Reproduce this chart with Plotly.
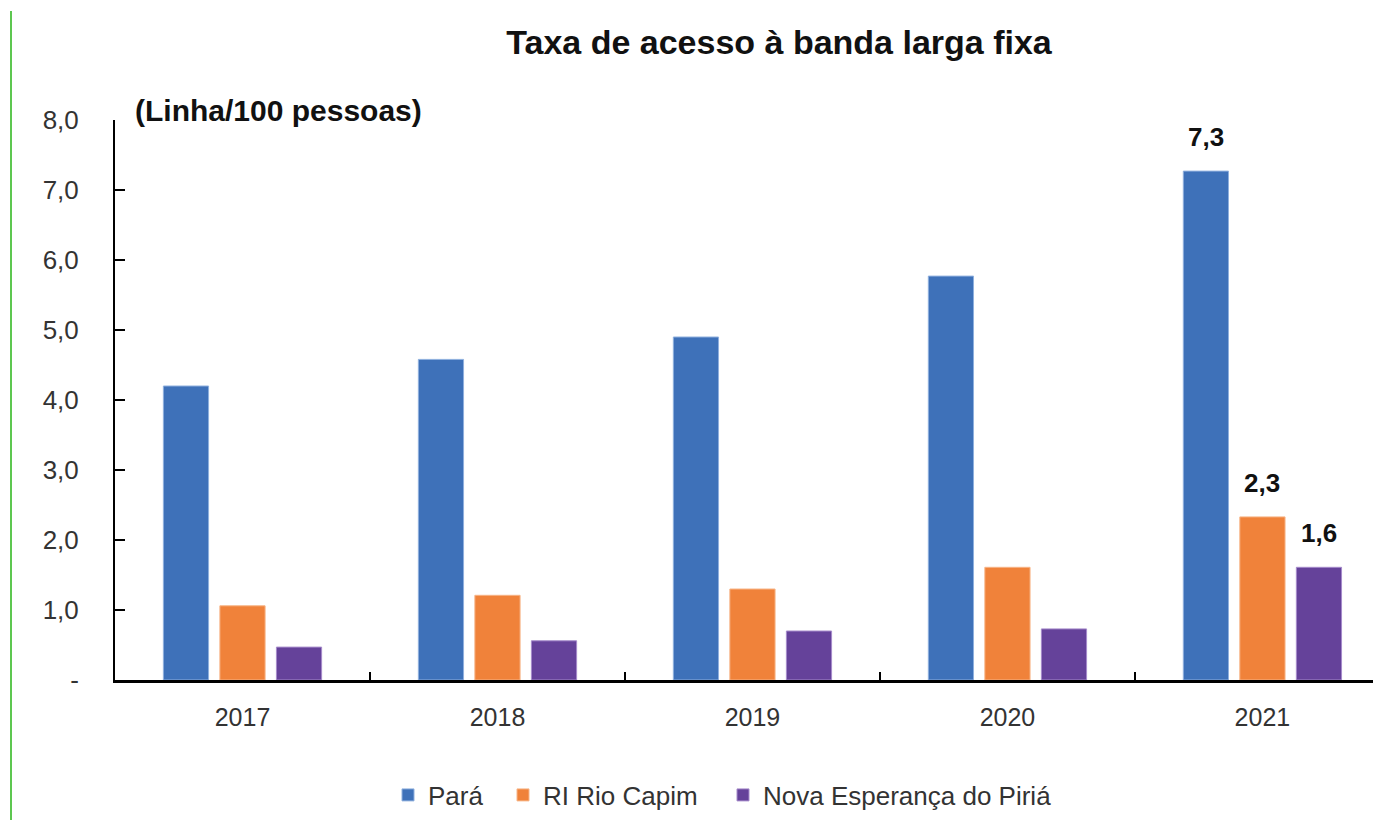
import plotly.graph_objects as go

years = ["2017", "2018", "2019", "2020", "2021"]
para = [4.2, 4.58, 4.9, 5.77, 7.27]
rio_capim = [1.06, 1.21, 1.3, 1.61, 2.33]
nova_esperanca = [0.47, 0.56, 0.7, 0.73, 1.61]
series_names = ["Pará", "RI Rio Capim", "Nova Esperança do Piriá"]
series_colors = ["#3E71B9", "#F0823A", "#65429A"]
series_edges = ["#8FB0DE", "#F7B588", "#A68BCB"]
ytick_vals = [0, 1, 2, 3, 4, 5, 6, 7, 8]
ytick_text = ["-", "1,0", "2,0", "3,0", "4,0", "5,0", "6,0", "7,0", "8,0"]
labelled_year = "2021"

FONT = "Liberation Sans, Arial, sans-serif"
W, H = 1373, 812          # page body adds an 8px margin
L, T, B = 107, 112, 140
PW, PH = W - L, H - T - B

legend_ids = ["legend", "legend2", "legend3"]
legend_text_x = [428, 543, 763]   # screen x where legend texts start

fig = go.Figure()
for name, vals, col, edge, lg in zip(series_names, [para, rio_capim, nova_esperanca],
                                     series_colors, series_edges, legend_ids):
    fig.add_trace(go.Bar(x=years, y=vals, name=name,
                         marker=dict(color=col, line=dict(width=1, color=edge)),
                         legend=lg, hoverinfo="x+y+name"))

# data labels for the last year
offsets = [-1, 0, 1]
idx = years.index(labelled_year)
for k, vals in enumerate([para, rio_capim, nova_esperanca]):
    v = vals[idx]
    fig.add_annotation(x=idx + offsets[k] * 0.2215, y=v, xref="x", yref="y",
                       text="<b>" + f"{v:.1f}".replace(".", ",") + "</b>",
                       showarrow=False, yanchor="middle", yshift=34,
                       font=dict(family=FONT, size=26, color="#111111"))

fig.add_annotation(x=(125 - L) / PW, xref="paper", y=(T + PH - 102) / PH, yref="paper",
                   xanchor="left", yanchor="middle",
                   text="<b>(Linha/100 pessoas)</b>", showarrow=False,
                   font=dict(family=FONT, size=30, color="#111111"))

gx = (3 - L) / PW
fig.add_shape(type="line", xref="paper", yref="paper",
              x0=gx, x1=gx, y0=(T + PH - 3) / PH, y1=(T + PH - H) / PH,
              line=dict(color="#5DC750", width=2))

legend_layout = {}
for lg, tx in zip(legend_ids, legend_text_x):
    legend_layout[lg] = dict(orientation="h", x=(tx - 8 - 40 - L) / PW, xanchor="left",
                             y=(T + PH - 787) / PH, yanchor="middle",
                             font=dict(family=FONT, size=26, color="#333333"),
                             itemwidth=30, bgcolor="rgba(0,0,0,0)", borderwidth=0)

fig.update_layout(
    width=W, height=H,
    margin=dict(l=L, r=0, t=T, b=B),
    paper_bgcolor="white", plot_bgcolor="white",
    title=dict(text="<b>Taxa de acesso à banda larga fixa</b>", x=771 / W, xanchor="center",
               y=1 - 34 / H, yanchor="middle",
               font=dict(family=FONT, size=34, color="#111111")),
    barmode="group", bargap=0.335, bargroupgap=0.2,
    font=dict(family=FONT, size=26, color="#333333"),
    showlegend=True,
    xaxis=dict(range=[-0.5, 4.465], showline=True, linecolor="black", linewidth=3,
               ticks="inside", tickmode="array", tickvals=[0.5, 1.5, 2.5, 3.5],
               ticklen=8, tickwidth=2, tickcolor="black", showticklabels=False,
               showgrid=False, zeroline=False, automargin=False),
    xaxis2=dict(overlaying="x", matches="x", range=[-0.5, 4.465], showline=False,
                tickmode="array", tickvals=list(range(len(years))), ticktext=years,
                ticks="", ticklabelstandoff=20, side="bottom", automargin=False,
                tickfont=dict(family=FONT, size=25, color="#333333"), showgrid=False, zeroline=False),
    yaxis=dict(range=[0, 8], showline=True, linecolor="black", linewidth=2,
               ticks="inside", ticklen=10, tickwidth=2, tickcolor="black",
               tickmode="array", tickvals=ytick_vals, ticktext=ytick_text,
               ticklabelstandoff=29, automargin=False,
               tickfont=dict(family=FONT, size=26, color="#333333"),
               showgrid=False, zeroline=False),
    **legend_layout,
)
# invisible trace to activate xaxis2 for category labels
fig.add_trace(go.Scatter(x=[0], y=[0], xaxis="x2", mode="markers", marker=dict(opacity=0),
                         showlegend=False, hoverinfo="skip"))

fig.write_html("out.html")
